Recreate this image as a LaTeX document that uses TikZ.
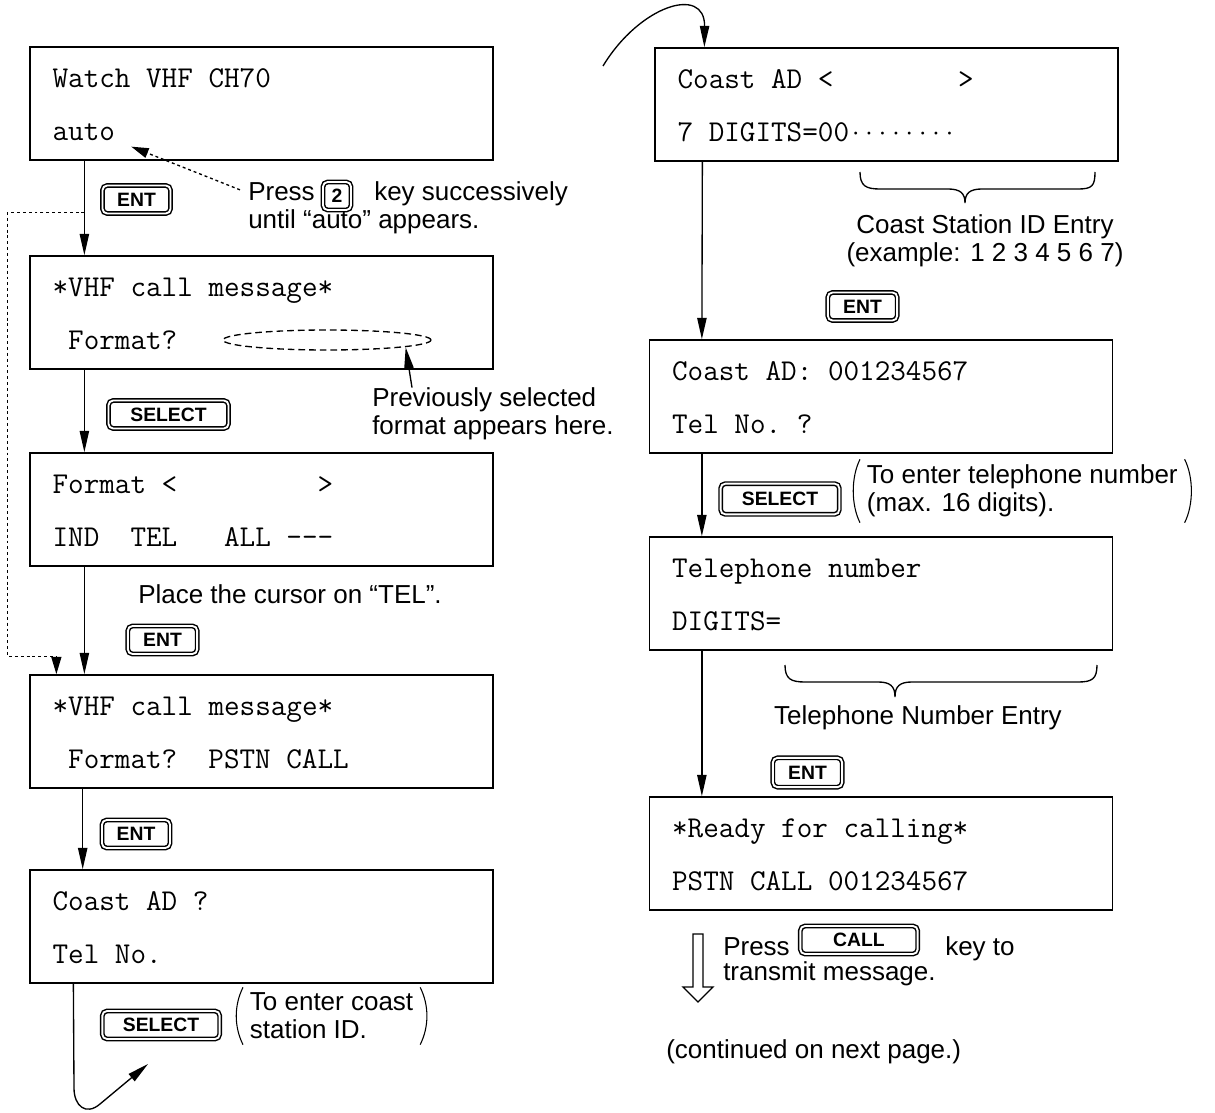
\documentclass[tikz,border=0pt]{standalone}
\usepackage{fontspec}
\setmainfont{Liberation Sans}
\usepackage{tikz}
\usetikzlibrary{arrows.meta, calc, shapes.geometric}

\tikzset{
  screen/.style={draw, line width=1.2pt, minimum width=347pt, minimum height=84.75pt, inner sep=0pt},
  lcd/.style={anchor=base west, inner sep=0pt, font=\ttfamily\fontsize{22.7}{26}\selectfont\frenchspacing},
  note/.style={inner sep=0pt, font=\fontsize{19.5}{21}\selectfont},
  keycap/.style={draw, line width=1.1pt, double, double distance=1.4pt, rounded corners=3.5pt, inner sep=0pt,
    minimum height=21pt, font=\bfseries\fontsize{14.5}{16}\selectfont},
  flow/.style={line width=1pt, -{Triangle[length=16pt,width=7pt]}},
  loopback/.style={line width=1pt, dash pattern=on 2.2pt off 2.2pt, -{Triangle[length=13pt,width=7.5pt]}},
  paren/.style={line width=0.8pt},
  brace/.style={line width=1pt},
}

\begin{document}
\begin{tikzpicture}[x=0.75pt,y=0.75pt,yscale=-1,xscale=1]
\useasboundingbox (0,0) rectangle (1215,1113);

%Shape: Screen
\node[screen] (s1) at (261.5,103.5) {};
% Text Node
\node[lcd] (s1a) at ([xshift=17.25pt,yshift=30.75pt]s1.north west) {Watch VHF CH70};
\node[lcd] (s1b) at ([xshift=17.25pt,yshift=70.5pt]s1.north west) {auto};

%Shape: Screen
\node[screen] (s2) at (261.5,312.5) {};
% Text Node
\node[lcd] (s2a) at ([xshift=17.25pt,yshift=30.75pt]s2.north west) {*VHF call message*};
\node[lcd] (s2b) at ([xshift=17.25pt,yshift=70.5pt]s2.north west) {~Format?};
%Shape: Ellipse
\node[draw, ellipse, line width=1pt, dash pattern=on 5pt off 3pt, minimum width=156pt, minimum height=15pt, inner sep=0pt] (fmtslot) at (327,340) {};

%Shape: Screen
\node[screen] (s3) at (261.5,509.5) {};
% Text Node
\node[lcd] (s3a) at ([xshift=17.25pt,yshift=30.75pt]s3.north west) {Format <~~~~~~~~~>};
\node[lcd] (s3b) at ([xshift=17.25pt,yshift=70.5pt]s3.north west) {IND~~TEL~~~ALL~–––};

%Shape: Screen
\node[screen] (s4) at (261.5,731.5) {};
% Text Node
\node[lcd] (s4a) at ([xshift=17.25pt,yshift=30.75pt]s4.north west) {*VHF call message*};
\node[lcd] (s4b) at ([xshift=17.25pt,yshift=70.5pt]s4.north west) {~Format?~~PSTN CALL};

%Shape: Screen
\node[screen] (s5) at (261.5,926.5) {};
% Text Node
\node[lcd] (s5a) at ([xshift=17.25pt,yshift=30.75pt]s5.north west) {Coast AD ?};
\node[lcd] (s5b) at ([xshift=17.25pt,yshift=70.5pt]s5.north west) {Tel No.};

%Shape: Screen
\node[screen] (s6) at (886.5,104.5) {};
% Text Node
\node[lcd] (s6a) at ([xshift=17.25pt,yshift=30.75pt]s6.north west) {Coast AD <~~~~~~~~>};
\node[lcd] (s6b) at ([xshift=17.25pt,yshift=70.5pt]s6.north west) {7 DIGITS=00{\fontsize{19.5}{20}\selectfont ········}};

%Shape: Screen
\node[screen] (s7) at (881,396.5) {};
% Text Node
\node[lcd] (s7a) at ([xshift=17.25pt,yshift=30.75pt]s7.north west) {Coast AD: 001234567};
\node[lcd] (s7b) at ([xshift=17.25pt,yshift=70.5pt]s7.north west) {Tel No. ?};

%Shape: Screen
\node[screen] (s8) at (881,593.5) {};
% Text Node
\node[lcd] (s8a) at ([xshift=17.25pt,yshift=30.75pt]s8.north west) {Telephone number};
\node[lcd] (s8b) at ([xshift=17.25pt,yshift=70.5pt]s8.north west) {DIGITS=};

%Shape: Screen
\node[screen] (s9) at (881,853.5) {};
% Text Node
\node[lcd] (s9a) at ([xshift=17.25pt,yshift=30.75pt]s9.north west) {*Ready for calling*};
\node[lcd] (s9b) at ([xshift=17.25pt,yshift=70.5pt]s9.north west) {PSTN CALL 001234567};

%Shape: Keys
\node[keycap, minimum width=51pt] (k1) at (136.5,199.5) {ENT};
\node[keycap, minimum width=21pt, minimum height=21pt] (k2) at (337,196) {2};
\node[keycap, minimum width=90pt] (k3) at (168.5,414.5) {SELECT};
\node[keycap, minimum width=52pt] (k4) at (162.5,640) {ENT};
\node[keycap, minimum width=51pt] (k5) at (136,834) {ENT};
\node[keycap, minimum width=88pt] (k6) at (161,1025) {SELECT};
\node[keycap, minimum width=52pt] (k7) at (862.5,306.5) {ENT};
\node[keycap, minimum width=89pt, minimum height=23pt] (k8) at (780,499) {SELECT};
\node[keycap, minimum width=52pt, minimum height=22pt] (k9) at (807.5,772.5) {ENT};
\node[keycap, minimum width=88pt] (k10) at (859,940) {CALL};

% Text Node
\node[note, anchor=base west] (press) at (248,200) {Press};
\node[note, anchor=base west] (succ) at (374,200) {key successively};
\node[note, anchor=base west] (until) at (248,228) {until “auto” appears.};
\node[note, align=left, anchor=west] (prev) at (372,414) {Previously selected\\format appears here.};
\node[note, anchor=west] (cursor) at (138,594) {Place the cursor on “TEL”.};
\node[note, align=left, anchor=west, inner xsep=5pt, inner ysep=4pt] (coastid) at (243,1016) {To enter coast\\station ID.};
\node[note, align=center] (idnote) at (985,241) {Coast Station ID Entry\\(example: 1 2 3 4 5 6 7)};
\node[note, align=left, anchor=west, inner xsep=5pt, inner ysep=4pt] (telnote) at (860,491) {To enter telephone number\\(max. 16 digits).};
\node[note] (telentry) at (918,718) {Telephone Number Entry};
\node[note, anchor=base west] (press2) at (723,955) {Press};
\node[note, anchor=base west] (keyto) at (945,955) {key to};
\node[note, anchor=base west] (transmit) at (723,980) {transmit message.};
\node[note, anchor=west] (cont) at (666,1052) {(continued on next page.)};

%Straight Lines
\draw[flow] ([xshift=41.25pt]s1.south west) -- coordinate[pos=0.55] (fb) ([xshift=41.25pt]s2.north west);
\draw[flow] ([xshift=41.25pt]s2.south west) -- ([xshift=41.25pt]s3.north west);
\draw[flow] ([xshift=41.25pt]s3.south west) -- ([xshift=41.25pt]s4.north west);
\draw[flow] ([xshift=40pt]s4.south west) -- ([xshift=40pt]s5.north west);
\draw[loopback] (fb) -| ([xshift=-16.5pt,yshift=-13.5pt]s4.north west) -| ([xshift=20.25pt]s4.north west);
\draw[loopback] ([xshift=-6pt,yshift=6pt]press.north west) -- ([xshift=12pt,yshift=4.5pt]s1b.south east);
\draw[flow] ([xshift=30pt]prev.north west) -- ([xshift=59pt,yshift=-2.5pt]fmtslot.south);

%Curve Lines
\coordinate (wrapout) at (148,1064);
\coordinate (wrapin) at (603,66);
\draw[flow] ([xshift=33pt]s5.south west) -- (74,1088) .. controls (74,1106) and (86,1116) .. (100,1104) -- (wrapout);
\draw[flow] (wrapin) .. controls (640,5) and (705,-15) .. ([xshift=37.5pt]s6.north west);

%Straight Lines
\draw[flow] ([xshift=36pt]s6.south west) -- ([xshift=39.75pt]s7.north west);
\draw[flow] ([xshift=39.75pt]s7.south west) -- ([xshift=39.75pt]s8.north west);
\draw[flow] ([xshift=39.75pt]s8.south west) -- ([xshift=39.75pt]s9.north west);

%Shape: Brackets
\draw[paren] (coastid.north west) .. controls ($(coastid.north west)+(-9,18)$) and ($(coastid.south west)+(-9,-18)$) .. (coastid.south west);
\draw[paren] (coastid.north east) .. controls ($(coastid.north east)+(9,18)$) and ($(coastid.south east)+(9,-18)$) .. (coastid.south east);
\draw[paren] (telnote.north west) .. controls ($(telnote.north west)+(-9,18)$) and ($(telnote.south west)+(-9,-18)$) .. (telnote.south west);
\draw[paren] (telnote.north east) .. controls ($(telnote.north east)+(9,18)$) and ($(telnote.south east)+(9,-18)$) .. (telnote.south east);

%Shape: Braces
\draw[brace] (860,172) .. controls (860,186) and (866,189) .. (880,189) -- (948,189) .. controls (960,189) and (965,193) .. (965,203) .. controls (965,193) and (970,189) .. (982,189) -- (1078,189) .. controls (1092,189) and (1095,186) .. (1095,172);
\draw[brace] (785,665) .. controls (785,679) and (791,682) .. (805,682) -- (878,682) .. controls (890,682) and (895,686) .. (895,697) .. controls (895,686) and (900,682) .. (912,682) -- (1078,682) .. controls (1092,682) and (1097,679) .. (1097,665);

%Shape: Hollow Arrow
\draw[line width=1pt] (693,934) -- (703,934) -- (703,987) -- (713,987) -- (698,1002) -- (683,987) -- (693,987) -- cycle;

\end{tikzpicture}
\end{document}
